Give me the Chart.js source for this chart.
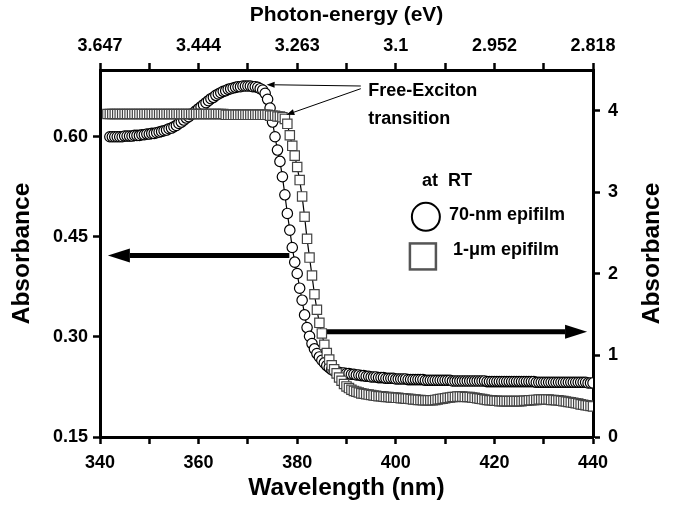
<!DOCTYPE html>
<html>
<head>
<meta charset="utf-8">
<script src="https://cdn.jsdelivr.net/npm/chart.js@4.4.1/dist/chart.umd.min.js"></script>
<style>
  html, body { margin: 0; padding: 0; background: #fff; }
  #wrap { width: 674px; height: 505px; }
</style>
</head>
<body>
<div id="wrap"><canvas id="absChart" width="674" height="505"></canvas></div>
<script>
// wavelength grid (nm), one row per 10 nm
var wavelength = [
  341.5, 342, 342.5, 343, 343.5, 344, 344.5, 345, 345.5, 346, 346.5, 347, 347.5, 348, 348.5, 349, 349.5, 350,
  350.5, 351, 351.5, 352, 352.5, 353, 353.5, 354, 354.5, 355, 355.5, 356, 356.5, 357, 357.5, 358, 358.5, 359, 359.5, 360,
  360.5, 361, 361.5, 362, 362.5, 363, 363.5, 364, 364.5, 365, 365.5, 366, 366.5, 367, 367.5, 368, 368.5, 369, 369.5, 370,
  370.5, 371, 371.5, 372, 372.5, 373, 373.5, 374, 374.5, 375, 375.5, 376, 376.5, 377, 377.5, 378, 378.5, 379, 379.5, 380,
  380.5, 381, 381.5, 382, 382.5, 383, 383.5, 384, 384.5, 385, 385.5, 386, 386.5, 387, 387.5, 388, 388.5, 389, 389.5, 390,
  390.5, 391, 391.5, 392, 392.5, 393, 393.5, 394, 394.5, 395, 395.5, 396, 396.5, 397, 397.5, 398, 398.5, 399, 399.5, 400,
  400.5, 401, 401.5, 402, 402.5, 403, 403.5, 404, 404.5, 405, 405.5, 406, 406.5, 407, 407.5, 408, 408.5, 409, 409.5, 410,
  410.5, 411, 411.5, 412, 412.5, 413, 413.5, 414, 414.5, 415, 415.5, 416, 416.5, 417, 417.5, 418, 418.5, 419, 419.5, 420,
  420.5, 421, 421.5, 422, 422.5, 423, 423.5, 424, 424.5, 425, 425.5, 426, 426.5, 427, 427.5, 428, 428.5, 429, 429.5, 430,
  430.5, 431, 431.5, 432, 432.5, 433, 433.5, 434, 434.5, 435, 435.5, 436, 436.5, 437, 437.5, 438, 438.5, 439, 439.5, 440
];

// 70-nm epifilm, left axis
var abs70nm = [
  null, 0.600, 0.600, 0.600, 0.600, 0.600, 0.600, 0.601, 0.601, 0.601, 0.601, 0.602, 0.602, 0.602, 0.603, 0.603, 0.604, 0.604,
  0.605, 0.605, 0.606, 0.607, 0.608, 0.609, 0.610, 0.612, 0.613, 0.615, 0.617, 0.620, 0.622, 0.625, 0.628, 0.630, 0.633, 0.636, 0.639, 0.642,
  0.645, 0.648, 0.651, 0.654, 0.657, 0.659, 0.662, 0.664, 0.666, 0.668, 0.669, 0.671, 0.672, 0.673, 0.674, 0.675, 0.675, 0.676, 0.676, 0.676,
  0.676, 0.675, 0.675, 0.674, 0.672, 0.670, 0.665, 0.656, 0.643, 0.622, 0.600, 0.580, 0.563, 0.540, 0.513, 0.485, 0.460, 0.434, 0.412, 0.395,
  0.373, 0.355, 0.333, 0.314, 0.301, 0.290, 0.282, 0.275, 0.270, 0.265, 0.261, 0.257, 0.254, 0.251, 0.249, 0.248, 0.247, 0.246, 0.246, 0.245,
  0.245, 0.244, 0.244, 0.243, 0.243, 0.242, 0.242, 0.241, 0.241, 0.240, 0.240, 0.240, 0.239, 0.239, 0.239, 0.238, 0.238, 0.238, 0.238, 0.237,
  0.237, 0.237, 0.237, 0.237, 0.236, 0.236, 0.236, 0.236, 0.236, 0.236, 0.236, 0.235, 0.235, 0.235, 0.235, 0.235, 0.235, 0.235, 0.235, 0.235,
  0.235, 0.235, 0.234, 0.234, 0.234, 0.234, 0.234, 0.234, 0.234, 0.234, 0.234, 0.234, 0.234, 0.234, 0.234, 0.234, 0.233, 0.233, 0.233, 0.233,
  0.233, 0.233, 0.233, 0.233, 0.233, 0.233, 0.233, 0.233, 0.233, 0.233, 0.233, 0.233, 0.233, 0.233, 0.233, 0.233, 0.232, 0.232, 0.232, 0.232,
  0.232, 0.232, 0.232, 0.232, 0.232, 0.232, 0.232, 0.232, 0.232, 0.232, 0.232, 0.232, 0.232, 0.232, 0.232, 0.232, 0.232, 0.231, 0.231, 0.231
];

// 1-um epifilm, right axis
var abs1um = [
  3.96, 3.96, 3.96, 3.96, 3.96, 3.96, 3.96, 3.96, 3.96, 3.96, 3.96, 3.96, 3.96, 3.96, 3.96, 3.96, 3.96, 3.96,
  3.96, 3.96, 3.96, 3.96, 3.96, 3.96, 3.96, 3.96, 3.96, 3.96, 3.96, 3.96, 3.96, 3.96, 3.96, 3.96, 3.96, 3.96, 3.96, 3.96,
  3.96, 3.96, 3.96, 3.96, 3.96, 3.96, 3.96, 3.96, 3.96, 3.96, 3.95, 3.95, 3.95, 3.95, 3.95, 3.95, 3.95, 3.95, 3.95, 3.95,
  3.95, 3.95, 3.95, 3.95, 3.95, 3.95, 3.95, 3.95, 3.94, 3.94, 3.94, 3.93, 3.93, 3.92, 3.90, 3.84, 3.70, 3.57, 3.45, 3.31,
  3.15, 2.95, 2.70, 2.43, 2.20, 1.98, 1.75, 1.56, 1.40, 1.27, 1.13, 1.03, 0.95, 0.88, 0.83, 0.78, 0.73, 0.69, 0.65, 0.62,
  0.60, 0.58, 0.565, 0.555, 0.545, 0.535, 0.53, 0.525, 0.52, 0.515, 0.51, 0.505, 0.50, 0.50, 0.495, 0.49, 0.49, 0.485, 0.485, 0.48,
  0.48, 0.475, 0.475, 0.47, 0.47, 0.465, 0.46, 0.46, 0.455, 0.455, 0.45, 0.45, 0.45, 0.45, 0.45, 0.455, 0.46, 0.465, 0.47, 0.475,
  0.48, 0.485, 0.49, 0.49, 0.495, 0.495, 0.495, 0.49, 0.49, 0.49, 0.485, 0.48, 0.475, 0.47, 0.465, 0.46, 0.455, 0.45, 0.45, 0.445,
  0.445, 0.44, 0.44, 0.44, 0.44, 0.44, 0.44, 0.44, 0.44, 0.44, 0.44, 0.445, 0.445, 0.45, 0.45, 0.455, 0.455, 0.46, 0.46, 0.46,
  0.46, 0.46, 0.455, 0.455, 0.45, 0.45, 0.445, 0.44, 0.435, 0.43, 0.425, 0.42, 0.415, 0.41, 0.40, 0.395, 0.39, 0.385, 0.38, 0.375
];

var wlTicks = [340, 350, 360, 370, 380, 390, 400, 410, 420, 430, 440];
var wlLabels = ['340', '', '360', '', '380', '', '400', '', '420', '', '440'];
var eVLabels = ['3.647', '', '3.444', '', '3.263', '', '3.1', '', '2.952', '', '2.818'];
var leftTicks = [0.15, 0.30, 0.45, 0.60];
var leftLabels = ['0.15', '0.30', '0.45', '0.60'];
var rightTicks = [0, 1, 2, 3, 4];
var rightLabels = ['0', '1', '2', '3', '4'];

var FONT = "'Liberation Sans', Arial, Helvetica, sans-serif";
var tickFont = { family: FONT, size: 18, weight: 'bold' };

function toPoints(ys) {
  return wavelength.map(function (w, i) { return { x: w, y: ys[i] }; });
}

function axis(pos, min, max, ticks, labels, pad, fit) {
  return {
    type: 'linear',
    position: pos,
    min: min,
    max: max,
    afterBuildTicks: function (s) { s.ticks = ticks.map(function (v) { return { value: v }; }); },
    afterFit: fit,
    ticks: {
      color: '#000', font: tickFont, padding: pad, maxRotation: 0, autoSkip: false,
      callback: function (v, i) { return labels[i]; }
    },
    grid: { drawOnChartArea: false, drawTicks: true, tickLength: 7, tickWidth: 2.5, tickColor: '#000' },
    border: { display: true, width: 3, color: '#000' }
  };
}

// annotation placement, in data units
var notes = {
  leftArrow: { from: [378.4, 0.422], to: [341.6, 0.422], axis: 'y' },
  rightArrow: { from: [385.9, 1.29], to: [438.8, 1.29], axis: 'y2' },
  exciton1: { from: [392.9, 0.676, 'y'], to: [373.8, 0.678, 'y'] },
  exciton2: { from: [392.9, 0.672, 'y'], to: [377.8, 3.95, 'y2'] }
};

var annotate = {
  id: 'annotate',
  beforeDatasetsDraw: function (chart) {
    var ctx = chart.ctx, xs = chart.scales.x;
    ctx.save();
    ctx.fillStyle = '#000';
    ctx.strokeStyle = '#000';
    [notes.leftArrow, notes.rightArrow].forEach(function (a) {
      var ys = chart.scales[a.axis];
      arrow(ctx, xs.getPixelForValue(a.from[0]), ys.getPixelForValue(a.from[1]),
        xs.getPixelForValue(a.to[0]), ys.getPixelForValue(a.to[1]), 5, 22, 7);
    });
    ctx.restore();
  },
  afterDatasetsDraw: function (chart) {
    var ctx = chart.ctx, xs = chart.scales.x, y1 = chart.scales.y;
    ctx.save();
    ctx.fillStyle = '#000';
    ctx.strokeStyle = '#000';
    [notes.exciton1, notes.exciton2].forEach(function (a) {
      arrow(ctx, xs.getPixelForValue(a.from[0]), chart.scales[a.from[2]].getPixelForValue(a.from[1]),
        xs.getPixelForValue(a.to[0]), chart.scales[a.to[2]].getPixelForValue(a.to[1]), 1, 8, 3);
    });
    ctx.font = 'bold 18px ' + FONT;
    ctx.textAlign = 'left';
    ctx.textBaseline = 'middle';
    ctx.fillText('Free-Exciton', xs.getPixelForValue(394.4), y1.getPixelForValue(0.669));
    ctx.fillText('transition', xs.getPixelForValue(394.4), y1.getPixelForValue(0.627));
    ctx.fillText('at  RT', xs.getPixelForValue(405.3), y1.getPixelForValue(0.533));
    ctx.fillText('70-nm epifilm', xs.getPixelForValue(410.8), y1.getPixelForValue(0.482));
    ctx.fillText('1-\u03bcm epifilm', xs.getPixelForValue(411.6), y1.getPixelForValue(0.430));
    // legend symbols
    ctx.lineWidth = 2;
    ctx.beginPath();
    ctx.arc(xs.getPixelForValue(406.1), y1.getPixelForValue(0.480), 14, 0, Math.PI * 2);
    ctx.fillStyle = '#fff';
    ctx.fill();
    ctx.stroke();
    ctx.strokeStyle = '#555';
    ctx.lineWidth = 2.5;
    var sx = xs.getPixelForValue(405.5), sy = y1.getPixelForValue(0.4206);
    ctx.strokeRect(sx - 13, sy - 13, 26, 26);
    // axis titles
    var ca = chart.chartArea, mx = (ca.left + ca.right) / 2, my = (ca.top + ca.bottom) / 2;
    ctx.fillStyle = '#000';
    ctx.textAlign = 'center';
    ctx.font = 'bold 21px ' + FONT;
    ctx.fillText('Photon-energy (eV)', mx, 15);
    ctx.font = 'bold 24.5px ' + FONT;
    ctx.fillText('Wavelength (nm)', mx, 488);
    ctx.save();
    ctx.translate(22, my);
    ctx.rotate(-Math.PI / 2);
    ctx.fillText('Absorbance', 0, 0);
    ctx.restore();
    ctx.save();
    ctx.translate(652, my);
    ctx.rotate(-Math.PI / 2);
    ctx.fillText('Absorbance', 0, 0);
    ctx.restore();
    ctx.restore();
  }
};

function arrow(ctx, x1, y1, x2, y2, lw, headLen, headHalf) {
  var ang = Math.atan2(y2 - y1, x2 - x1);
  var bx = x2 - headLen * Math.cos(ang), by = y2 - headLen * Math.sin(ang);
  ctx.lineWidth = lw;
  ctx.beginPath();
  ctx.moveTo(x1, y1);
  ctx.lineTo(bx, by);
  ctx.stroke();
  ctx.beginPath();
  ctx.moveTo(x2, y2);
  ctx.lineTo(bx + headHalf * Math.sin(ang), by - headHalf * Math.cos(ang));
  ctx.lineTo(bx - headHalf * Math.sin(ang), by + headHalf * Math.cos(ang));
  ctx.closePath();
  ctx.fill();
}

new Chart('absChart', {
  type: 'scatter',
  data: {
    datasets: [
      {
        label: '1-\u03bcm epifilm',
        data: toPoints(abs1um),
        xAxisID: 'x',
        yAxisID: 'y2',
        showLine: true,
        borderColor: '#000',
        borderWidth: 1.2,
        pointStyle: 'rect',
        pointRadius: 6.6,
        pointBorderColor: '#444',
        pointBackgroundColor: '#fff',
        pointBorderWidth: 1.2
      },
      {
        label: '70-nm epifilm',
        data: toPoints(abs70nm),
        xAxisID: 'x',
        yAxisID: 'y',
        showLine: true,
        borderColor: '#000',
        borderWidth: 1.2,
        pointStyle: 'circle',
        pointRadius: 5.2,
        pointBorderColor: '#000',
        pointBackgroundColor: '#fff',
        pointBorderWidth: 1.2
      }
    ]
  },
  options: {
    responsive: false,
    animation: false,
    devicePixelRatio: 1,
    layout: { padding: 0 },
    plugins: { legend: { display: false }, tooltip: { enabled: false }, title: { display: false } },
    scales: {
      x: axis('bottom', 340, 440, wlTicks, wlLabels, 8, function (s) { s.height = 68; }),
      x2: axis('top', 340, 440, wlTicks, eVLabels, 6, function (s) { s.height = 70; }),
      y: axis('left', 0.15, 0.70, leftTicks, leftLabels, 5, function (s) { s.width = 100; }),
      y2: axis('right', 0, 4.5, rightTicks, rightLabels, 8, function (s) { s.width = 81; })
    }
  },
  plugins: [annotate]
});
</script>
</body>
</html>
